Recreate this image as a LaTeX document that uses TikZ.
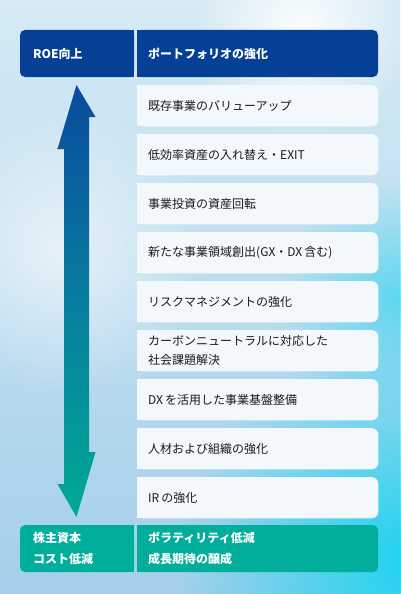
\documentclass[tikz,border=0pt]{standalone}
\usepackage{fontspec}
\setmainfont{Noto Sans CJK JP}
\usetikzlibrary{fadings}
\definecolor{hdrblue}{HTML}{053F96}
\definecolor{ftteal}{HTML}{00AE9B}
\definecolor{itemfill}{HTML}{F3F8FC}
\definecolor{bgtop}{HTML}{D5EAF4}
\definecolor{bgbot}{HTML}{A4CFEA}
\definecolor{glowcyan}{HTML}{1ED3EF}
\definecolor{arrtop}{HTML}{0A4A9C}
\definecolor{arrmid}{HTML}{077E9F}
\definecolor{arrbot}{HTML}{00A995}
\definecolor{txt}{HTML}{1A1A1A}
\pgfdeclarelayer{back}
\pgfdeclarelayer{bg}
\pgfsetlayers{back,bg,main}
\newcommand{\lsp}{\hspace{2pt}}
\tikzfading[name=glow, inner color=transparent!0, outer color=transparent!100]
\tikzset{
  itembox/.style={anchor=north west, minimum width=241, minimum height=41, inner xsep=11, inner ysep=0,
    text width=219, align=left, font=\fontsize{12}{19}\selectfont, text=txt},
  hdrtext/.style={anchor=west, inner sep=0, align=left, text=white, font=\fontsize{12}{21}\selectfont\bfseries},
}
\begin{document}
\begin{tikzpicture}[x=1pt,y=-1pt]
\useasboundingbox (0,0) rectangle (400,594);
% background
\begin{pgfonlayer}{back}
\shade[top color=bgtop, bottom color=bgbot] (0,0) rectangle (400,594);
\fill[white, path fading=glow, opacity=0.9] (300,30) circle (110);
\fill[white, path fading=glow, opacity=0.6] (60,250) circle (150);
\fill[glowcyan, path fading=glow] (410,560) circle (230);
\fill[glowcyan, path fading=glow, opacity=0.6] (400,300) circle (120);
\end{pgfonlayer}

% header boxes
\fill[hdrblue, rounded corners=5] (20,30) rectangle (134,77);
\fill[hdrblue] (125,30) rectangle (134,77);
\fill[hdrblue, rounded corners=5] (137,30) rectangle (378,77);
\fill[hdrblue] (137,30) rectangle (146,77);
\node[hdrtext] (hl) at (33,53.5) {ROE向上};
\node[hdrtext] (hr) at (148,53.5) {ポートフォリオの強化};

% footer boxes
\fill[ftteal, rounded corners=5] (20,525) rectangle (134,572);
\fill[ftteal] (125,525) rectangle (134,572);
\fill[ftteal, rounded corners=5] (137,525) rectangle (378,572);
\fill[ftteal] (137,525) rectangle (146,572);
\node[hdrtext] (fl) at (33,548.5) {株主資本\\コスト低減};
\node[hdrtext] (fr) at (148,548.5) {ボラティリティ低減\\成長期待の醸成};

% items
\node[itembox] (i1) at (137,85) {既存事業のバリューアップ};
\node[itembox] (i2) at (137,134) {低効率資産の入れ替え・EXIT};
\node[itembox] (i3) at (137,183) {事業投資の資産回転};
\node[itembox] (i4) at (137,232) {新たな事業領域創出(GX・DX\lsp 含む)};
\node[itembox] (i5) at (137,281) {リスクマネジメントの強化};
\node[itembox] (i6) at (137,330) {カーボンニュートラルに対応した\\社会課題解決};
\node[itembox] (i7) at (137,379) {DX\lsp を活用した事業基盤整備};
\node[itembox] (i8) at (137,428) {人材および組織の強化};
\node[itembox] (i9) at (137,477) {IR\lsp の強化};
\begin{pgfonlayer}{bg}
\foreach \n in {i1,i2,i3,i4,i5,i6,i7,i8,i9}{
  \fill[itemfill, rounded corners=7] (\n.north west) rectangle (\n.south east);
  \fill[itemfill] (\n.north west) rectangle ([xshift=10pt]\n.south west);
}
\end{pgfonlayer}

% double arrow
\coordinate (atop) at (76.5,85);
\coordinate (abot) at (76.5,517);
\shade[top color=arrtop, bottom color=arrbot, middle color=arrmid]
  (atop) -- ++(19,32) -- ++(-6.5,0) -- ++(0,335) -- ++(6.5,0) -- (abot)
  -- ++(-19,-33) -- ++(6.5,0) -- ++(0,-335) -- ++(-6.5,0) -- cycle;
\end{tikzpicture}
\end{document}
